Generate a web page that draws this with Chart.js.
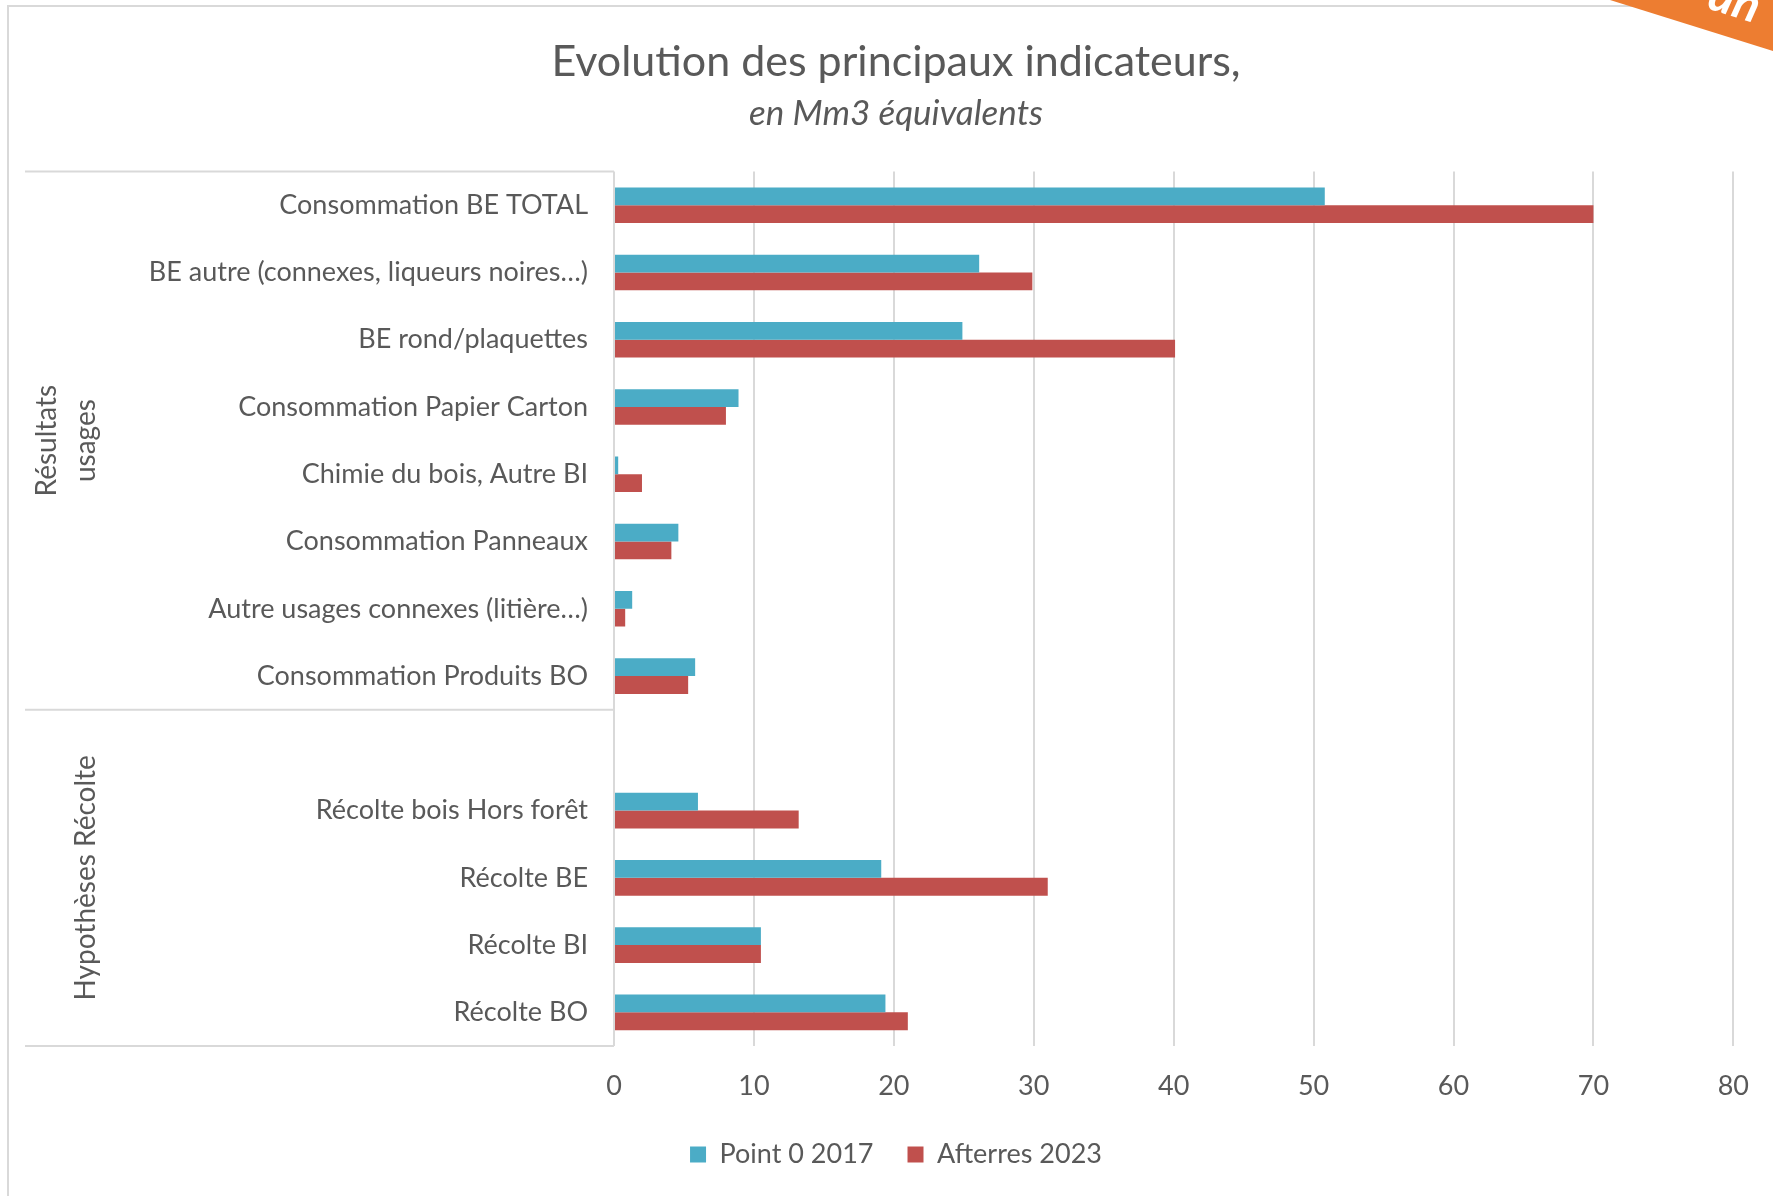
<!DOCTYPE html>
<html lang="fr">
<head>
<meta charset="utf-8">
<title>Evolution des principaux indicateurs</title>
<script src="https://cdn.jsdelivr.net/npm/chart.js@4.4.1/dist/chart.umd.min.js"></script>
<style>
    html, body { margin: 0; padding: 0; background: #ffffff; }
    #wrap { position: relative; width: 1773px; height: 1196px; }
</style>
</head>
<body>
<div id="wrap"><canvas id="chart" width="1773" height="1196"></canvas></div>
<script>
// catégories (de haut en bas), la ligne vide sépare les deux groupes
const categories = [
    'Consommation BE TOTAL',
    'BE autre (connexes, liqueurs noires…)',
    'BE rond/plaquettes',
    'Consommation Papier Carton',
    'Chimie du bois, Autre BI',
    'Consommation Panneaux',
    'Autre usages connexes (litière…)',
    'Consommation Produits BO',
    '',
    'Récolte bois Hors forêt',
    'Récolte BE',
    'Récolte BI',
    'Récolte BO'
];

// valeurs en Mm3 équivalents
const point0_2017 = [50.8, 26.1, 24.9, 8.9, 0.3, 4.6, 1.3, 5.8, null, 6.0, 19.1, 10.5, 19.4];
const afterres2023 = [70.0, 29.9, 40.1, 8.0, 2.0, 4.1, 0.8, 5.3, null, 13.2, 31.0, 10.5, 21.0];

// groupes de l'axe des catégories
const groupLabels = [['Résultats', 'usages'], ['Hypothèses Récolte']];
const groupRanges = [[0, 7], [8, 12]];

const xTicks = [0, 10, 20, 30, 40, 50, 60, 70, 80];

const textColor = '#595959';
const lineColor = '#d9d9d9';
const fontFamily = 'Lato, "Open Sans", sans-serif';

// cadre, séparateurs de groupes, étiquettes de groupe et bandeau orange
const decorations = {
    id: 'decorations',
    afterDraw(chart) {
        const ctx = chart.ctx;
        const area = chart.chartArea;
        const y = chart.scales.y;

        ctx.save();
        ctx.strokeStyle = lineColor;
        ctx.lineWidth = 2;

        // cadre extérieur
        ctx.beginPath();
        ctx.moveTo(8, chart.height);
        ctx.lineTo(8, 6);
        ctx.lineTo(1640, 6);
        ctx.stroke();

        // lignes séparatrices de la zone des étiquettes
        const bounds = [area.top];
        groupRanges.forEach(function(r, i) {
            if (i < groupRanges.length - 1) {
                bounds.push((y.getPixelForValue(r[1]) + y.getPixelForValue(groupRanges[i + 1][0])) / 2);
            }
        });
        bounds.push(area.bottom);
        ctx.beginPath();
        bounds.forEach(function(b) {
            ctx.moveTo(25, b);
            ctx.lineTo(area.left, b);
        });
        ctx.stroke();

        // étiquettes de groupe (verticales)
        ctx.fillStyle = textColor;
        ctx.font = '28px ' + fontFamily;
        ctx.textAlign = 'center';
        ctx.textBaseline = 'middle';
        groupLabels.forEach(function(lines, i) {
            const cy = (bounds[i] + bounds[i + 1]) / 2;
            lines.forEach(function(txt, j) {
                const cx = 86 - (lines.length - 1 - j) * 39;
                ctx.save();
                ctx.translate(cx, cy);
                ctx.rotate(-Math.PI / 2);
                ctx.fillText(txt, 0, 0);
                ctx.restore();
            });
        });

        // bandeau orange coupé en haut à droite
        ctx.fillStyle = '#ed7d31';
        ctx.beginPath();
        ctx.moveTo(1610, 0);
        ctx.lineTo(chart.width, 0);
        ctx.lineTo(chart.width, 51);
        ctx.closePath();
        ctx.fill();
        ctx.save();
        ctx.translate(1706, 8);
        ctx.rotate(17.4 * Math.PI / 180);
        ctx.fillStyle = '#ffffff';
        ctx.font = 'italic bold 48px ' + fontFamily;
        ctx.textAlign = 'left';
        ctx.textBaseline = 'alphabetic';
        ctx.fillText('an', 0, 0);
        ctx.restore();

        ctx.restore();
    }
};

const ctx = document.getElementById('chart').getContext('2d');
const chart = new Chart(ctx, {
    type: 'bar',
    data: {
        labels: categories,
        datasets: [
            {
                label: 'Point 0 2017',
                data: point0_2017,
                backgroundColor: '#4bacc6',
                borderWidth: 0
            },
            {
                label: 'Afterres 2023',
                data: afterres2023,
                backgroundColor: '#c0504d',
                borderWidth: 0
            }
        ]
    },
    options: {
        indexAxis: 'y',
        responsive: false,
        animation: false,
        categoryPercentage: 0.53,
        barPercentage: 1.0,
        layout: {
            padding: { left: 58, right: 39, top: 0, bottom: 18 }
        },
        plugins: {
            title: {
                display: true,
                text: 'Evolution des principaux indicateurs,',
                color: textColor,
                font: { family: fontFamily, size: 43, weight: 'normal', lineHeight: 1.2 },
                padding: { top: 36, bottom: 0 }
            },
            subtitle: {
                display: true,
                text: 'en Mm3 équivalents',
                color: textColor,
                font: { family: fontFamily, size: 35, style: 'italic', lineHeight: 1.2 },
                padding: { top: 5, bottom: 37 }
            },
            legend: {
                position: 'bottom',
                labels: {
                    color: textColor,
                    font: { family: fontFamily, size: 27 },
                    boxWidth: 16,
                    boxHeight: 16,
                    padding: 34
                }
            },
            tooltip: { enabled: false }
        },
        scales: {
            x: {
                min: 0,
                max: 80,
                afterBuildTicks: function(scale) {
                    scale.ticks = xTicks.map(function(v) { return { value: v }; });
                },
                afterFit: function(scale) {
                    scale.height = 61;
                },
                grid: {
                    color: lineColor,
                    lineWidth: 2,
                    drawTicks: false
                },
                border: { display: false },
                ticks: {
                    color: textColor,
                    font: { family: fontFamily, size: 27 },
                    padding: 24
                }
            },
            y: {
                afterFit: function(scale) {
                    scale.width = 556;
                },
                grid: { display: false },
                border: { display: false },
                ticks: {
                    color: textColor,
                    font: { family: fontFamily, size: 27 },
                    padding: 18,
                    autoSkip: false
                }
            }
        }
    },
    plugins: [decorations]
});
</script>
</body>
</html>
